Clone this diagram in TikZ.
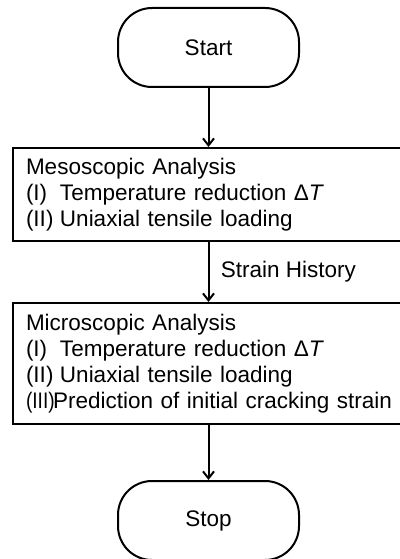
\documentclass[tikz,border=0pt]{standalone}
\usepackage{fontspec}
\setmainfont{Liberation Sans}
\usepackage{graphicx}
\usetikzlibrary{arrows.meta,positioning}
\newcommand{\itm}[2]{\makebox[34pt][l]{#1}#2}
\newcommand{\itmiii}[2]{\makebox[27pt][l]{\scalebox{0.85}[1]{#1}}#2}

\begin{document}
\begin{tikzpicture}[x=1pt,y=1pt,
    line width=2pt,
    font=\fontsize{22.5}{26}\selectfont,
    term/.style={draw,rounded corners=34pt,minimum width=181pt,minimum height=79pt,inner sep=0pt},
    stage/.style={draw,anchor=north west,minimum width=400pt,text width=380pt,inner xsep=13pt,inner ysep=0pt,align=left},
    flow/.style={-{Straight Barb[length=7pt,width=11pt]}}]
  \useasboundingbox (0,0) rectangle (399,-559);
  \node[term] (start) at (208.5,-47.5) {Start};
  \node[stage,minimum height=93pt] (meso) at (12,-147)
    {Mesoscopic Analysis\\
     \itm{(I)}{Temperature reduction Δ\textit{T}}\\
     \itm{(II)}{Uniaxial tensile loading}};
  \node[stage,minimum height=121pt] (micro) at (12,-302)
    {Microscopic Analysis\\
     \itm{(I)}{Temperature reduction Δ\textit{T}}\\
     \itm{(II)}{Uniaxial tensile loading}\\
     \itmiii{(III)}{Prediction of initial cracking strain}};
  \node[term] (stop) at (208.5,-520.5) {Stop};
  \draw[flow] (start.south) -- (start.south |- meso.north);
  \draw[flow] (start.south |- meso.south) -- (start.south |- micro.north)
    node[midway,right,xshift=8pt] {Strain History};
  \draw[flow] (start.south |- micro.south) -- (stop.north);
\end{tikzpicture}
\end{document}
